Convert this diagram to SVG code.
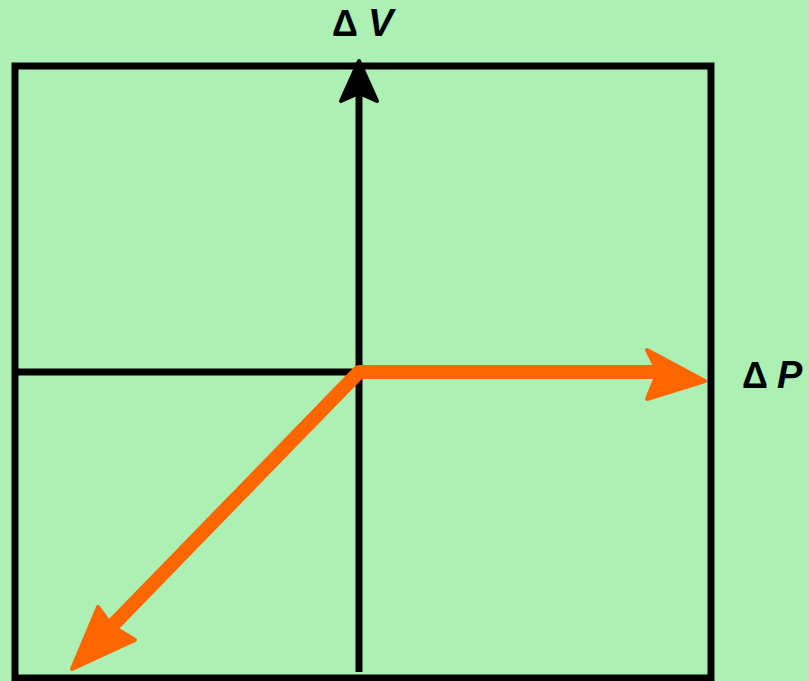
<svg xmlns="http://www.w3.org/2000/svg" width="809" height="681" viewBox="0 0 809 681">
<style>
.ln{stroke:#000;stroke-width:7;fill:none}
.or{stroke:#ff6600;stroke-width:14;fill:none;stroke-linejoin:round}
.oh{fill:#ff6600;stroke:#ff6600;stroke-width:4;stroke-linejoin:round}
.bh{fill:#000;stroke:#000;stroke-width:4;stroke-linejoin:round}
.t{font-family:"Liberation Sans",Arial,sans-serif;font-size:36px;fill:#000}
.d{font-weight:bold}
.b{font-weight:bold;font-style:italic;font-size:38px}
</style>
<rect width="809" height="681" fill="#adf0b4"/>
<g id="frame">
<rect x="15" y="66" width="696" height="612" class="ln"/>
</g>
<g id="axes">
<line x1="15" y1="372" x2="359" y2="372" class="ln"/>
<line x1="359" y1="672" x2="359" y2="90" class="ln"/>
<polygon points="359,61 341,101 359,93 377,101" class="bh"/>
</g>
<g id="connectors">
<path d="M112 626 L359 372 L662 372" class="or"/>
<polygon points="705,381 647,350 658,372 647,399" class="oh"/>
<polygon points="72,669 98,607 112,626 135,640" class="oh"/>
</g>
<g id="label-v">
<text x="332" y="36" class="t d">Δ</text>
<text x="368" y="36" class="t b">V</text>
</g>
<g id="label-p">
<text x="742" y="388" class="t d">Δ</text>
<text x="777" y="388" class="t b">P</text>
</g>
</svg>
